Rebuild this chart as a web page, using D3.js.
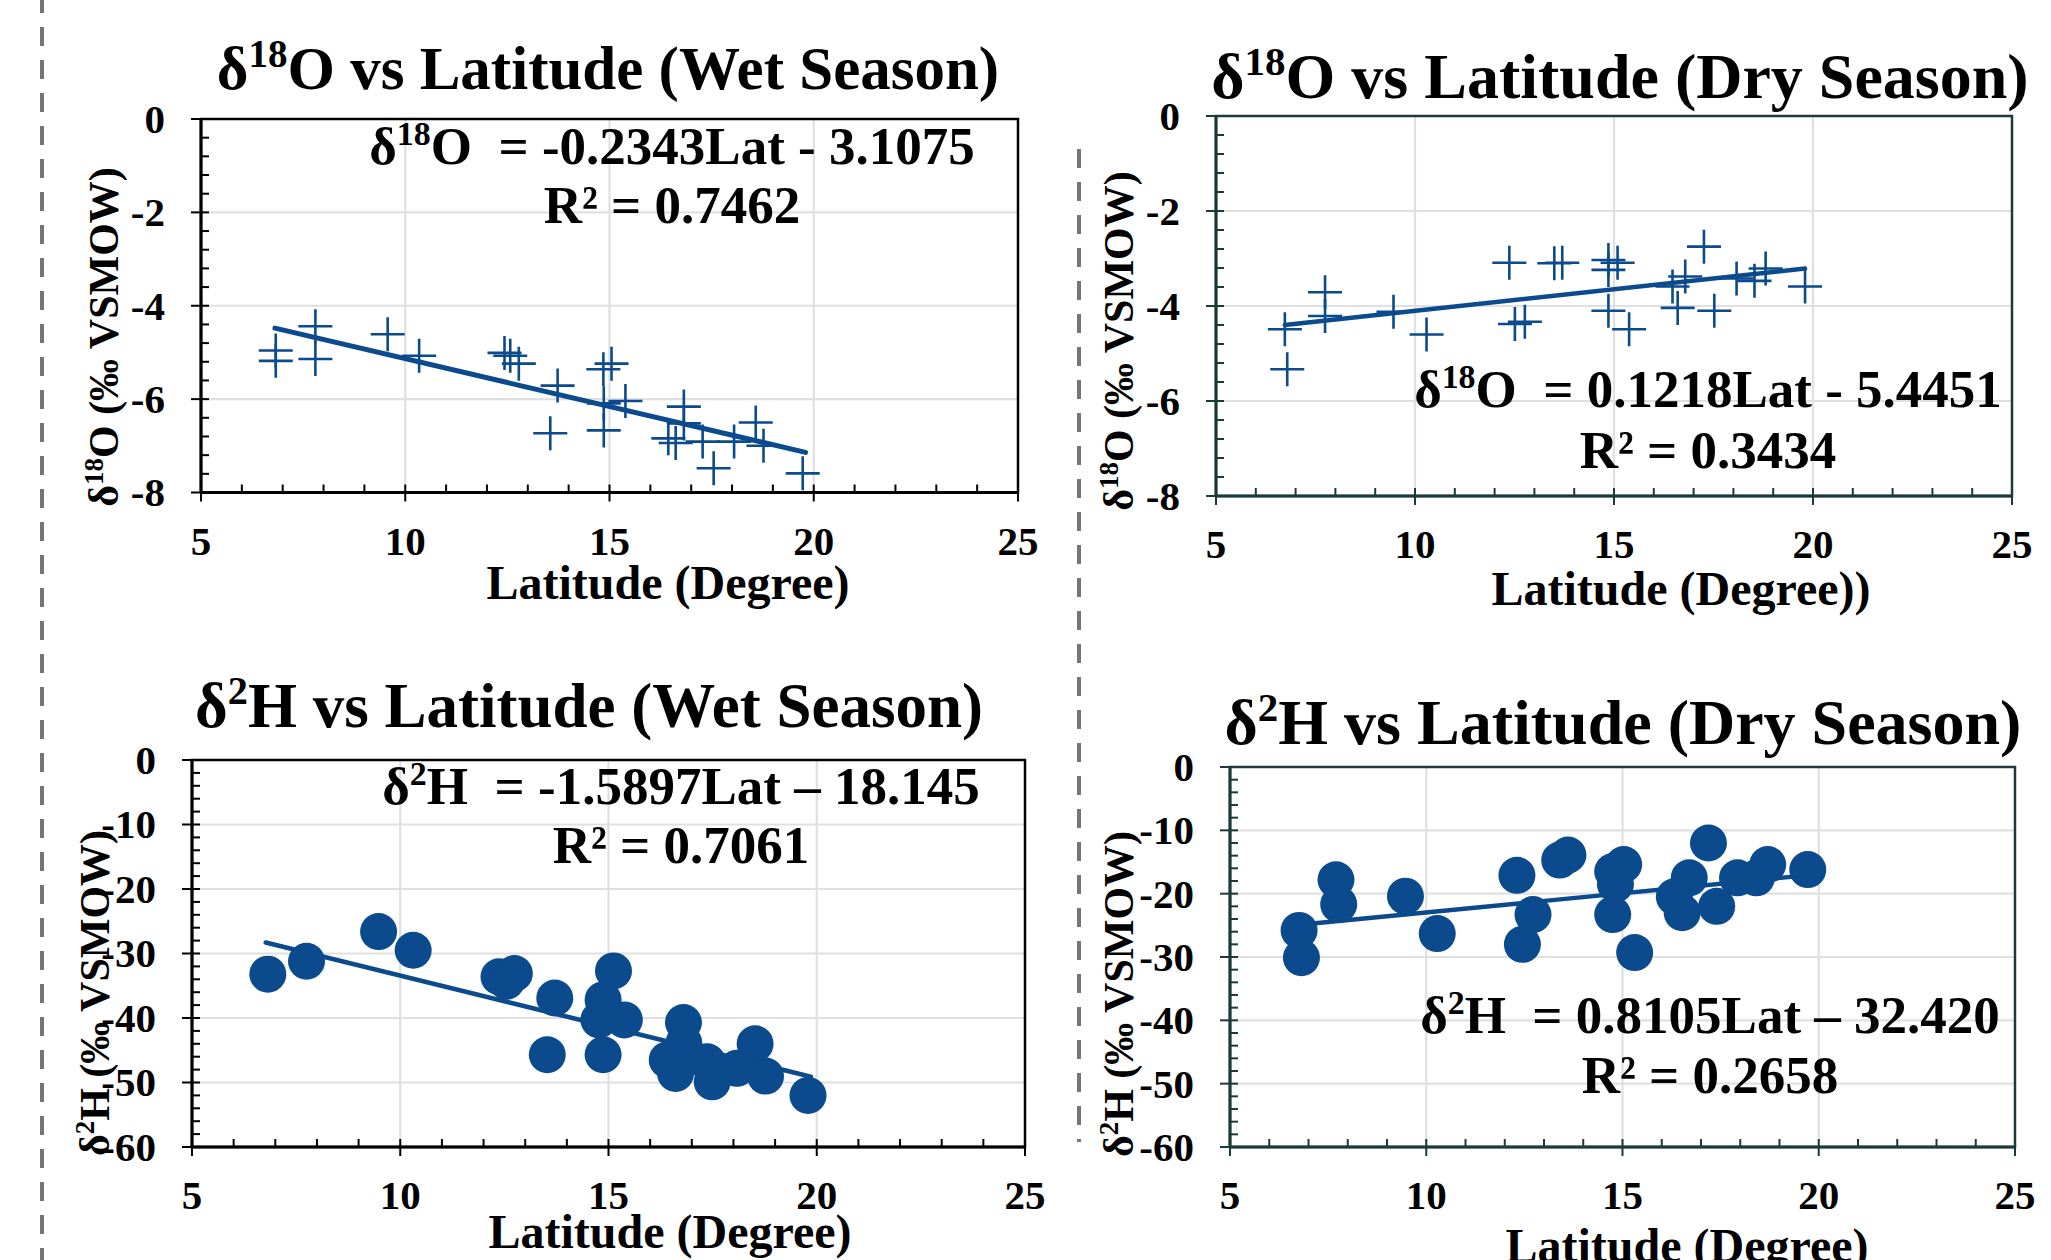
<!DOCTYPE html>
<html><head><meta charset="utf-8">
<script src="https://cdn.jsdelivr.net/npm/d3@7"></script>
<style>
html,body{margin:0;padding:0;background:#fff;}
svg{display:block;}
text{font-family:"Liberation Serif","Times New Roman",serif;font-weight:bold;fill:#000;white-space:pre;}
</style></head><body>
<svg id="c" width="2051" height="1260"></svg>
<script>
// ---------- data ----------
const xTicks = [5, 10, 15, 20, 25];
const yTicksO = [0, -2, -4, -6, -8];
const yTicksH = [0, -10, -20, -30, -40, -50, -60];

// Wet season, δ18O
const wetLatO = [6.83,6.83,7.80,7.80,9.57,10.34,12.43,12.57,12.78,13.55,13.73,14.85,15.05,14.86,14.86,15.39,16.82,16.82,16.44,16.62,17.28,17.55,18.05,18.58,18.77,19.73];
const wetO    = [-4.96,-5.18,-4.44,-5.14,-4.61,-5.07,-5.01,-5.07,-5.24,-6.73,-5.71,-5.36,-5.24,-6.09,-6.67,-6.04,-6.16,-6.52,-6.84,-6.94,-6.91,-7.48,-6.91,-6.50,-7.00,-7.59];
const wetTrendLatO = [6.81, 19.80];
const wetTrendO    = [-4.48, -7.14];

// Dry season, δ18O
const dryLatO = [6.73,6.79,7.74,7.74,9.46,10.29,12.37,12.51,12.76,13.50,13.70,14.86,15.09,14.86,14.86,15.38,16.79,16.47,16.60,17.26,17.52,18.08,18.53,18.81,19.80];
const dryO    = [-4.49,-5.33,-3.71,-4.21,-4.12,-4.60,-3.09,-4.38,-4.33,-3.10,-3.09,-3.03,-3.09,-3.24,-4.10,-4.49,-3.38,-3.59,-4.04,-2.75,-4.10,-3.42,-3.47,-3.21,-3.59];
const dryTrendLatO = [6.73, 19.80];
const dryTrendO    = [-4.40, -3.21];

// Wet season, δ2H
const wetLatH = [6.82,7.75,9.48,10.31,12.37,12.55,12.74,13.71,13.53,15.12,14.87,14.77,15.38,14.87,16.80,16.81,16.41,16.61,17.37,17.49,18.08,18.52,18.77,19.79];
const wetH    = [-33.2,-31.2,-26.6,-29.5,-33.6,-34.3,-33.1,-36.9,-45.7,-32.7,-37.2,-40.3,-40.3,-45.7,-40.7,-43.9,-46.5,-48.6,-46.8,-49.9,-47.8,-44.0,-49.0,-52.0];
const wetTrendLatH = [6.77, 19.86];
const wetTrendH    = [-28.3, -49.1];

// Dry season, δ2H
const dryLatH = [6.76,6.82,7.70,7.77,9.47,10.28,12.31,12.72,12.45,13.40,13.61,15.03,14.75,14.82,14.75,15.31,16.32,16.70,16.52,17.19,17.40,17.93,18.41,18.70,19.72];
const dryH    = [-25.8,-30.1,-17.8,-21.7,-20.4,-26.3,-17.1,-23.3,-28.0,-14.7,-13.9,-15.4,-16.5,-18.5,-23.3,-29.3,-20.5,-17.5,-23.0,-12.0,-22.0,-17.5,-17.5,-15.4,-16.2];
const dryTrendLatH = [6.78, 19.70];
const dryTrendH    = [-24.9, -17.1];

// ---------- drawing ----------
const svg = d3.select('#c');
const BLUE = '#0b4a8c';
const TICK_FS = 41;

function richText(g, parts, x, y, size, opts) {
  opts = opts || {};
  const t = g.append('text')
    .attr('x', x).attr('y', y)
    .attr('font-size', size)
    .attr('text-anchor', opts.anchor || 'middle');
  if (opts.rotate) t.attr('transform', `rotate(-90 ${x} ${y})`);
  const sh = size * 0.36;
  let raised = false;
  parts.forEach(p => {
    const s = t.append('tspan').text(p.t);
    if (p.sup) { s.attr('font-size', size * 0.64).attr('dy', -sh); raised = true; }
    else if (raised) { s.attr('dy', sh); raised = false; }
  });
  return t;
}

function panel(c) {
  const g = svg.append('g');
  const x = d3.scaleLinear().domain([5, 25]).range([c.x0, c.x1]);
  const y = d3.scaleLinear().domain([0, c.yMin]).range([c.y0, c.y1]);
  const axisCol = c.axisCol;

  // grid
  g.selectAll(null).data(xTicks.slice(1, -1)).join('line')
    .attr('x1', d => x(d)).attr('x2', d => x(d)).attr('y1', c.y0).attr('y2', c.y1)
    .attr('stroke', '#e0e0e0').attr('stroke-width', 2.2);
  g.selectAll(null).data(c.yTicks.slice(1, -1)).join('line')
    .attr('y1', d => y(d)).attr('y2', d => y(d)).attr('x1', c.x0).attr('x2', c.x1)
    .attr('stroke', '#e0e0e0').attr('stroke-width', 2.2);

  // frame
  g.append('rect').attr('x', c.x0).attr('y', c.y0).attr('width', c.x1 - c.x0).attr('height', c.y1 - c.y0)
    .attr('fill', 'none').attr('stroke', axisCol).attr('stroke-width', 2.5);
  g.append('line').attr('x1', c.x0).attr('x2', c.x1).attr('y1', c.y1).attr('y2', c.y1)
    .attr('stroke', axisCol).attr('stroke-width', 3);
  g.append('line').attr('x1', c.x0).attr('x2', c.x0).attr('y1', c.y0).attr('y2', c.y1)
    .attr('stroke', axisCol).attr('stroke-width', 3);

  // x ticks
  const xMinor = d3.range(6, 25, 1).filter(v => v % 5 !== 0);
  g.selectAll(null).data(xMinor).join('line')
    .attr('x1', d => x(d)).attr('x2', d => x(d)).attr('y1', c.y1 - 8).attr('y2', c.y1)
    .attr('stroke', axisCol).attr('stroke-width', 2);
  g.selectAll(null).data(xTicks).join('line')
    .attr('x1', d => x(d)).attr('x2', d => x(d)).attr('y1', c.y1 - 8).attr('y2', c.y1 + 9)
    .attr('stroke', axisCol).attr('stroke-width', 2);
  g.selectAll(null).data(xTicks).join('text')
    .attr('x', d => x(d)).attr('y', c.y1 + 62).attr('font-size', TICK_FS).attr('text-anchor', 'middle')
    .text(d => d);

  // y ticks
  const step = c.yTicks[0] - c.yTicks[1];
  const yMinor = d3.range(0, c.yMin - 0.001, -step / 5).filter(v => Math.abs(v / step - Math.round(v / step)) > 0.01);
  g.selectAll(null).data(yMinor).join('line')
    .attr('y1', d => y(d)).attr('y2', d => y(d)).attr('x1', c.x0).attr('x2', c.x0 + 8)
    .attr('stroke', axisCol).attr('stroke-width', 2);
  g.selectAll(null).data(c.yTicks).join('line')
    .attr('y1', d => y(d)).attr('y2', d => y(d)).attr('x1', c.x0 - 10).attr('x2', c.x0 + 8)
    .attr('stroke', axisCol).attr('stroke-width', 2);
  g.selectAll(null).data(c.yTicks).join('text')
    .attr('x', c.x0 - 36).attr('y', d => y(d)).attr('dy', '0.34em')
    .attr('font-size', TICK_FS).attr('text-anchor', 'end')
    .text(d => d === 0 ? '0' : '-' + Math.abs(d));

  // trend line + markers
  const line = d3.line().x(d => x(d[0])).y(d => y(d[1]));
  const trend = c.trendLat.map((v, i) => [v, c.trendVal[i]]);
  const pts = c.lat.map((v, i) => [v, c.val[i]]);
  if (c.marker === 'cross') {
    g.selectAll(null).data(pts).join('path')
      .attr('d', d => `M${x(d[0]) - 17},${y(d[1])}H${x(d[0]) + 17}M${x(d[0])},${y(d[1]) - 17}V${y(d[1]) + 17}`)
      .attr('stroke', BLUE).attr('stroke-width', 2.6).attr('fill', 'none');
    g.append('path').attr('d', line(trend)).attr('stroke', BLUE).attr('stroke-width', c.lw)
      .attr('fill', 'none').attr('stroke-linecap', 'round');
  } else {
    g.append('path').attr('d', line(trend)).attr('stroke', BLUE).attr('stroke-width', c.lw)
      .attr('fill', 'none').attr('stroke-linecap', 'round');
    g.selectAll(null).data(pts).join('circle')
      .attr('cx', d => x(d[0])).attr('cy', d => y(d[1])).attr('r', 18.5).attr('fill', BLUE);
  }

  // texts
  richText(g, c.title, c.titleX, c.titleY, c.titleSize);
  richText(g, c.eq, c.eqX, c.eqY, 53);
  richText(g, [{t: c.r2}], c.eqX, c.eqY + c.eqGap, 53);
  richText(g, [{t: c.xTitle}], c.xtX, c.xtY, 48);
  richText(g, c.yTitle, c.ytX, c.ytY, 42, {rotate: true});
}

const yTitleO = [{t: 'δ'}, {t: '18', sup: true}, {t: 'O (‰ VSMOW)'}];
const yTitleH = [{t: 'δ'}, {t: '2', sup: true}, {t: 'H (‰ VSMOW)'}];

panel({
  x0: 201, x1: 1018, y0: 119, y1: 492.5, yMin: -8, yTicks: yTicksO, axisCol: '#000',
  lat: wetLatO, val: wetO, trendLat: wetTrendLatO, trendVal: wetTrendO, marker: 'cross', lw: 5,
  title: [{t: 'δ'}, {t: '18', sup: true}, {t: 'O vs Latitude (Wet Season)'}], titleX: 608, titleY: 89, titleSize: 61,
  eq: [{t: 'δ'}, {t: '18', sup: true}, {t: 'O  = -0.2343Lat - 3.1075'}], r2: 'R² = 0.7462', eqX: 672, eqY: 164, eqGap: 59,
  xTitle: 'Latitude (Degree)', xtX: 668, xtY: 599, yTitle: yTitleO, ytX: 118, ytY: 337
});
panel({
  x0: 1216, x1: 2012, y0: 116, y1: 496, yMin: -8, yTicks: yTicksO, axisCol: '#1d3a3a',
  lat: dryLatO, val: dryO, trendLat: dryTrendLatO, trendVal: dryTrendO, marker: 'cross', lw: 4.5,
  title: [{t: 'δ'}, {t: '18', sup: true}, {t: 'O vs Latitude (Dry Season)'}], titleX: 1620, titleY: 98, titleSize: 64,
  eq: [{t: 'δ'}, {t: '18', sup: true}, {t: 'O  = 0.1218Lat - 5.4451'}], r2: 'R² = 0.3434', eqX: 1708, eqY: 407, eqGap: 61,
  xTitle: 'Latitude (Degree))', xtX: 1681, xtY: 605, yTitle: yTitleO, ytX: 1133, ytY: 341
});
panel({
  x0: 192, x1: 1025, y0: 760, y1: 1147, yMin: -60, yTicks: yTicksH, axisCol: '#000',
  lat: wetLatH, val: wetH, trendLat: wetTrendLatH, trendVal: wetTrendH, marker: 'circle', lw: 4.6,
  title: [{t: 'δ'}, {t: '2', sup: true}, {t: 'H vs Latitude (Wet Season)'}], titleX: 589, titleY: 727, titleSize: 63,
  eq: [{t: 'δ'}, {t: '2', sup: true}, {t: 'H  = -1.5897Lat – 18.145'}], r2: 'R² = 0.7061', eqX: 681, eqY: 804, eqGap: 59,
  xTitle: 'Latitude (Degree)', xtX: 670, xtY: 1248, yTitle: yTitleH, ytX: 109, ytY: 993
});
panel({
  x0: 1230, x1: 2015, y0: 767, y1: 1147, yMin: -60, yTicks: yTicksH, axisCol: '#1d3a3a',
  lat: dryLatH, val: dryH, trendLat: dryTrendLatH, trendVal: dryTrendH, marker: 'circle', lw: 4.4,
  title: [{t: 'δ'}, {t: '2', sup: true}, {t: 'H vs Latitude (Dry Season)'}], titleX: 1623, titleY: 744, titleSize: 64,
  eq: [{t: 'δ'}, {t: '2', sup: true}, {t: 'H  = 0.8105Lat – 32.420'}], r2: 'R² = 0.2658', eqX: 1710, eqY: 1033, eqGap: 60,
  xTitle: 'Latitude (Degree)', xtX: 1687, xtY: 1262, yTitle: yTitleH, ytX: 1133, ytY: 994
});

// dashed separators
svg.append('line').attr('x1', 42).attr('x2', 42).attr('y1', 0).attr('y2', 1260)
  .attr('stroke', '#757575').attr('stroke-width', 4).attr('stroke-dasharray', '19,14').attr('stroke-dashoffset', 6);
svg.append('line').attr('x1', 1079).attr('x2', 1079).attr('y1', 149).attr('y2', 1142)
  .attr('stroke', '#757575').attr('stroke-width', 4).attr('stroke-dasharray', '19,14');
</script>
</body></html>
